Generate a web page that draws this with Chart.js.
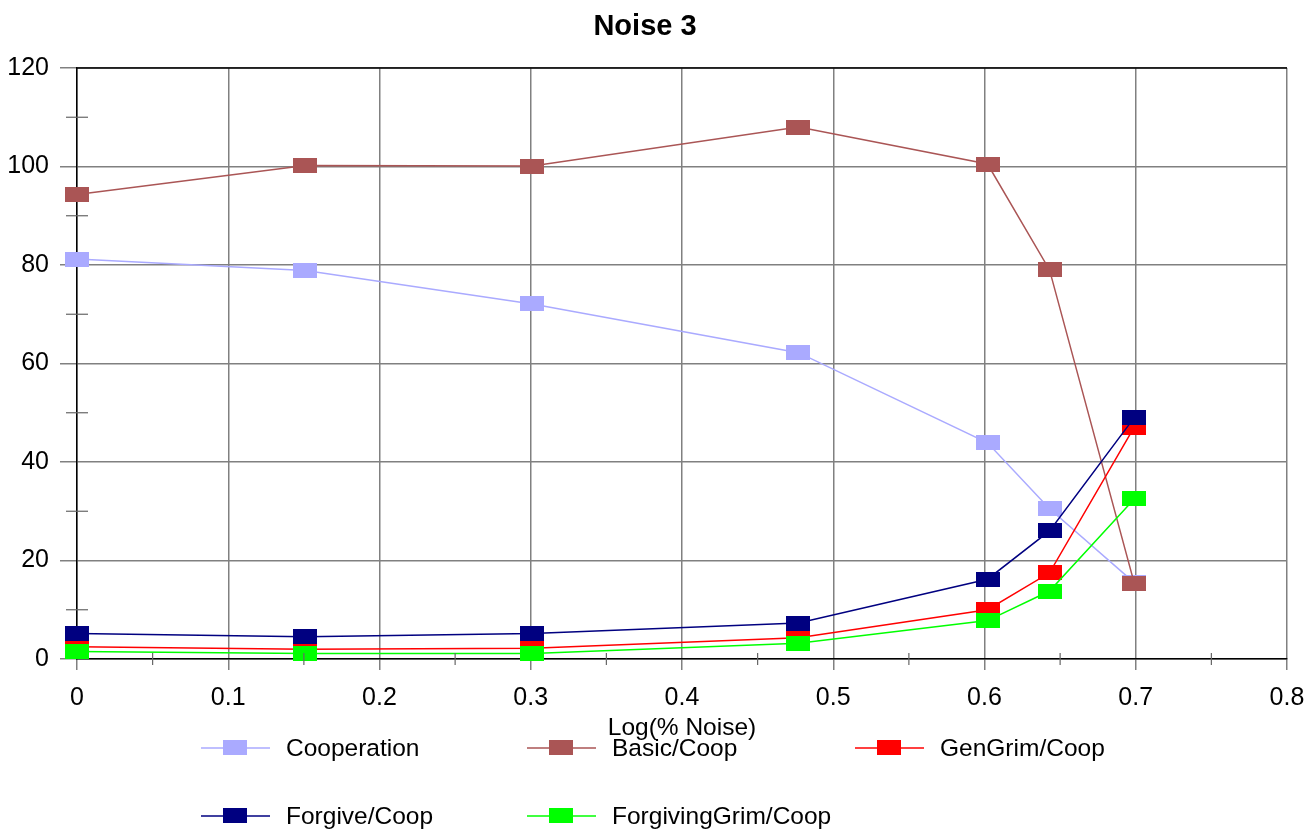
<!DOCTYPE html>
<html>
<head>
<meta charset="utf-8">
<script src="https://cdn.jsdelivr.net/npm/chart.js@4.4.1/dist/chart.umd.min.js"></script>
<style>
  html, body { margin: 0; padding: 0; background: #fff; }
  #wrap { width: 1310px; height: 829px; }
</style>
</head>
<body>
<div id="wrap"><canvas id="myChart" width="1310" height="829"></canvas></div>
<script>
"use strict"
// x-Werte: Log(% Noise)
const xVals = [0, 0.151, 0.301, 0.477, 0.602, 0.643, 0.699];
const cooperation   = [81.2, 78.9, 72.1, 62.2, 43.9, 30.5, 15.5];
const basicCoop     = [94.3, 100.2, 100.1, 108.0, 100.5, 79.0, 15.4];
const genGrimCoop   = [2.5, 2.0, 2.2, 4.3, 10.0, 17.5, 47.1];
const forgiveCoop   = [5.2, 4.5, 5.2, 7.3, 16.2, 26.0, 49.0];
const forgGrimCoop  = [1.5, 1.1, 1.1, 3.2, 7.8, 13.8, 32.5];
const seriesNames   = ['Cooperation', 'Basic/Coop', 'GenGrim/Coop', 'Forgive/Coop', 'ForgivingGrim/Coop'];
const seriesColors  = ['#aaaaff', '#aa5555', '#ff0000', '#000080', '#00ff00'];
const xTickLabels   = ['0', '0.1', '0.2', '0.3', '0.4', '0.5', '0.6', '0.7', '0.8'];
const yTickLabels   = ['0', '20', '40', '60', '80', '100', '120'];

const FONT = '"Liberation Sans", Arial, sans-serif';

// Rechteckige Marker
function makeMarker(color) {
    const c = document.createElement('canvas');
    c.width = 24; c.height = 15;
    const g = c.getContext('2d');
    g.fillStyle = color;
    g.fillRect(0, 0, 24, 15);
    return c;
}
const markers = seriesColors.map(makeMarker);

const allSeries = [cooperation, basicCoop, genGrimCoop, forgiveCoop, forgGrimCoop];
const datasets = allSeries.map((vals, i) => ({
    label: seriesNames[i],
    data: vals.map((v, j) => ({ x: xVals[j], y: v })),
    borderColor: seriesColors[i],
    backgroundColor: seriesColors[i],
    borderWidth: 1.5,
    pointStyle: markers[i],
    pointRadius: 12,
    pointHoverRadius: 12,
    tension: 0,
    fill: false,
    clip: false,
    order: allSeries.length - i
}));

// Titel, Achsentitel, Legende, Nebenstriche und Rahmen
const decoPlugin = {
    id: 'deco',
    afterDraw(chart) {
        const ctx = chart.ctx;
        const a = chart.chartArea;
        const xs = chart.scales.x, ys = chart.scales.y;
        ctx.save();
        // Rahmen oben
        ctx.strokeStyle = '#000';
        ctx.lineWidth = 1.5;
        ctx.beginPath();
        ctx.moveTo(a.left, a.top); ctx.lineTo(a.right, a.top);
        ctx.stroke();
        // Nebenstriche y
        ctx.strokeStyle = '#666';
        ctx.lineWidth = 1.2;
        for (let v = 10; v < 120; v += 20) {
            const py = ys.getPixelForValue(v);
            ctx.beginPath(); ctx.moveTo(a.left - 11, py); ctx.lineTo(a.left + 11, py); ctx.stroke();
        }
        // Nebenstriche x
        for (let v = 0.05; v < 0.8; v += 0.1) {
            const px = xs.getPixelForValue(v);
            ctx.beginPath(); ctx.moveTo(px, a.bottom - 6); ctx.lineTo(px, a.bottom + 6); ctx.stroke();
        }
        // Titel
        ctx.fillStyle = '#000';
        ctx.textAlign = 'center';
        ctx.textBaseline = 'middle';
        ctx.font = 'bold 29px ' + FONT;
        ctx.fillText('Noise 3', 645, 27);
        ctx.font = '24.5px ' + FONT;
        ctx.fillText('Log(% Noise)', (a.left + a.right) / 2, 728);
        // Legende
        const colX = [201, 527, 855];
        const rowY = [748, 816];
        chart.data.datasets.forEach((ds, i) => {
            const x0 = colX[i % 3], y0 = rowY[Math.floor(i / 3)];
            ctx.strokeStyle = ds.borderColor;
            ctx.lineWidth = 1.5;
            ctx.beginPath(); ctx.moveTo(x0, y0); ctx.lineTo(x0 + 69, y0); ctx.stroke();
            ctx.drawImage(ds.pointStyle, x0 + 34 - 12, y0 - 8);
            ctx.fillStyle = '#000';
            ctx.textAlign = 'left';
            ctx.fillText(ds.label, x0 + 85, y0 + 1);
        });
        ctx.restore();
    }
};

const config = {
    type: 'line',
    data: { datasets: datasets },
    options: {
        responsive: false,
        animation: false,
        layout: { padding: { top: 68, right: 23, left: 0, bottom: 0 } },
        plugins: {
            legend: { display: false },
            title: { display: false },
            tooltip: { enabled: false }
        },
        scales: {
            x: {
                type: 'linear',
                min: 0, max: 0.8,
                afterFit(scale) { scale.height = 170; scale.paddingRight = 0; scale.paddingLeft = 0; },
                grid: { color: '#808080', lineWidth: 1.5, tickLength: 11, tickColor: '#808080' },
                border: { color: '#000', width: 1.5 },
                ticks: {
                    stepSize: 0.1,
                    padding: 13,
                    color: '#000',
                    font: { family: FONT, size: 25 },
                    callback: (v, i) => xTickLabels[i]
                }
            },
            y: {
                min: 0, max: 120,
                afterFit(scale) { scale.width = 77; scale.paddingTop = 0; scale.paddingBottom = 0; },
                grid: { color: '#808080', lineWidth: 1.5, tickLength: 17, tickColor: '#808080' },
                border: { color: '#000', width: 1.5 },
                ticks: {
                    stepSize: 20,
                    padding: 11,
                    color: '#000',
                    font: { family: FONT, size: 25 },
                    callback: (v, i) => yTickLabels[i]
                }
            }
        }
    },
    plugins: [decoPlugin]
};

new Chart(document.getElementById('myChart'), config);
</script>
</body>
</html>
